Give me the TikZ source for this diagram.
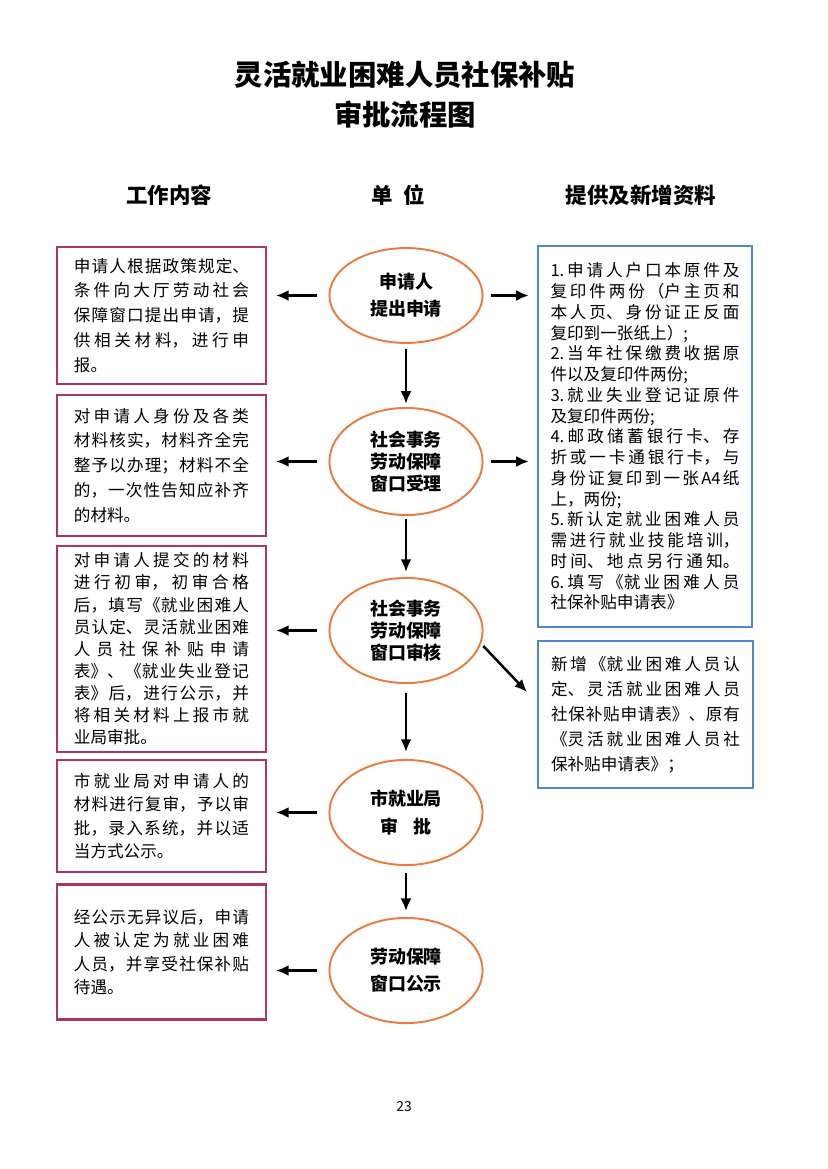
\documentclass[tikz,border=0pt]{standalone}
\usepackage{fontspec}
\setmainfont{Noto Sans CJK SC}
\usetikzlibrary{shapes.geometric,arrows.meta}
\definecolor{boxred}{HTML}{B0345C}
\definecolor{boxblue}{HTML}{4F86D6}
\definecolor{ringorange}{HTML}{E97B3F}
\XeTeXlinebreaklocale "zh"
% break a justified line without stretching it
\newcommand\itemend{\hskip 0pt plus 1fill\break}

\begin{document}
\begin{tikzpicture}[x=0.254mm,y=-0.254mm,
		work/.style={rectangle,draw=boxred,line width=1.5pt,minimum width=53.1mm,inner sep=0pt,text width=44.5mm,align=justify,font=\fontsize{12}{18}\selectfont,execute at begin node={\XeTeXlinebreakskip=0pt plus 1fil\parfillskip=0pt plus 1fill}},
		need/.style={work,draw=boxblue,minimum width=54.5mm,text width=48mm},
		unit/.style={ellipse,draw=ringorange,line width=1.4pt,minimum width=38.9mm,minimum height=26.7mm,inner sep=1pt,align=center,font=\bfseries\fontsize{13}{16}\selectfont},
		head/.style={font=\bfseries\fontsize{15.5}{18}\selectfont},
		flow/.style={line width=1.8pt,-{Latex[length=3.2mm,width=2.8mm]}}]
		\useasboundingbox (0,0) rectangle (827,1169);
		% title and column heads
		\draw (405,75) node [font=\bfseries\fontsize{20.5}{24}\selectfont] (T1) {灵活就业困难人员社保补贴};
		\draw (405,115) node [font=\bfseries\fontsize{20.5}{24}\selectfont] (T2) {审批流程图};
		\draw (169,195) node [head] (H1) {工作内容};
		\draw (398,195) node [head] (H2) {单\hspace{0.5em}位};
		\draw (641,195) node [head] (H3) {提供及新增资料};
		% units
		\draw (406,295.5) node [unit,minimum height=24.1mm,font=\bfseries\fontsize{13}{19.5}\selectfont] (U1) {申请人\\提出申请};
		\draw (406,461.5) node [unit,minimum height=27.2mm] (U2) {社会事务\\劳动保障\\窗口受理};
		\draw (406,630.5) node [unit] (U3) {社会事务\\劳动保障\\窗口审核};
		\draw (406,812.5) node [unit,font=\bfseries\fontsize{13}{20}\selectfont] (U4) {市就业局\\审\hspace{0.8em}批};
		\draw (406,970.5) node [unit,font=\bfseries\fontsize{13}{19.5}\selectfont] (U5) {劳动保障\\窗口公示};
		% work content
		\draw (161.5,315.5) node [work,minimum height=34.8mm] (W1) {申请人根据政策规定、\linebreak 条件向大厅劳动社会\linebreak 保障窗口提出申请，提\linebreak 供相关材料，进行申\linebreak 报。};
		\draw (161.5,465.5) node [work,minimum height=35.8mm] (W2) {对申请人身份及各类\linebreak 材料核实，材料齐全完\linebreak 整予以办理；材料不全\linebreak 的，一次性告知应补齐\linebreak 的材料。};
		\draw (161.5,649) node [work,minimum height=52.3mm,font=\fontsize{12}{16}\selectfont] (W3) {对申请人提交的材料\linebreak 进行初审，初审合格\linebreak 后，填写《就业困难人\linebreak 员认定、灵活就业困难\linebreak 人员社保补贴申请\linebreak 表》、《就业失业登记\linebreak 表》后，进行公示，并\linebreak 将相关材料上报市就\linebreak 业局审批。};
		\draw (161.5,816) node [work,minimum height=28.4mm,font=\fontsize{12}{17}\selectfont] (W4) {市就业局对申请人的\linebreak 材料进行复审，予以审\linebreak 批，录入系统，并以适\linebreak 当方式公示。};
		\draw (161.5,952) node [work,minimum height=34.3mm,font=\fontsize{12}{17}\selectfont] (W5) {经公示无异议后，申请\linebreak 人被认定为就业困难\linebreak 人员，并享受社保补贴\linebreak 待遇。};
		% materials
		\draw (645,436.5) node [need,minimum height=96.8mm,font=\fontsize{12}{15}\selectfont] (N1) {1.申请人户口本原件及\linebreak 复印件两份（户主页和\linebreak 本人页、身份证正反面\linebreak 复印到一张纸上）;\itemend 2.当年社保缴费收据原\linebreak 件以及复印件两份;\itemend 3.就业失业登记证原件\linebreak 及复印件两份;\itemend 4.邮政储蓄银行卡、存\linebreak 折或一卡通银行卡，与\linebreak 身份证复印到一张A4纸\linebreak 上，两份;\itemend 5.新认定就业困难人员\linebreak 需进行就业技能培训，\linebreak 时间、地点另行通知。\linebreak 6.填写《就业困难人员\linebreak 社保补贴申请表》};
		\draw (645.5,714.5) node [need,minimum height=37.3mm] (N2) {新增《就业困难人员认\linebreak 定、灵活就业困难人员\linebreak 社保补贴申请表》、原有\linebreak 《灵活就业困难人员社\linebreak 保补贴申请表》；};
		\coordinate (N2in) at (527,692);
		% arrows
		\draw [flow,shorten <=1.3mm,shorten >=0.8mm] (U1) -- (U2);
		\draw [flow,shorten <=0.8mm,shorten >=1.3mm] (U2) -- (U3);
		\draw [flow,shorten <=2.3mm,shorten >=1.8mm] (U3) -- (U4);
		\draw [flow,shorten <=1.8mm,shorten >=1.5mm] (U4) -- (U5);
		\draw [flow,shorten <=3mm,shorten >=2.3mm] (U1.west) -- (U1.west -| W1.east);
		\draw [flow,shorten <=3mm,shorten >=2.3mm] (U2.west) -- (U2.west -| W2.east);
		\draw [flow,shorten <=3mm,shorten >=2.3mm] (U3.west) -- (U3.west -| W3.east);
		\draw [flow,shorten <=3mm,shorten >=2.3mm] (U4.west) -- (U4.west -| W4.east);
		\draw [flow,shorten <=3mm,shorten >=2.3mm] (U5.west) -- (U5.west -| W5.east);
		\draw [flow,shorten <=2mm,shorten >=2mm] (U1.east) -- (U1.east -| N1.west);
		\draw [flow,shorten <=2mm,shorten >=2mm] (U2.east) -- (U2.east -| N1.west);
		\draw [flow,shorten <=0.8mm] (U3.-10) -- (N2in);
		% page number
		\draw (404,1107) node [font=\fontsize{10}{12}\selectfont] (P) {23};
	\end{tikzpicture}
\end{document}
